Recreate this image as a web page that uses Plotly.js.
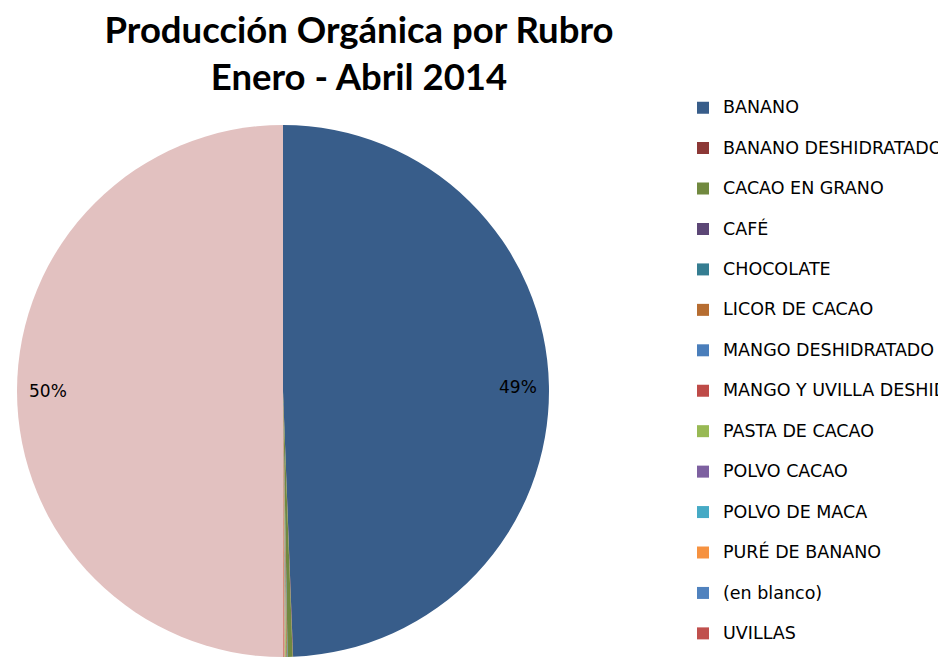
<!DOCTYPE html>
<html>
<head>
<meta charset="utf-8">
<script src="https://cdn.plot.ly/plotly-3.0.1.min.js"></script>
<style>
  html, body { margin: 0; padding: 0; background: #ffffff; }
  #chart { width: 938px; height: 658px; }
</style>
</head>
<body>
<div id="chart"></div>
<script>
// ---- data ----
const categories = [
  'BANANO',
  'BANANO DESHIDRATADO',
  'CACAO EN GRANO',
  'CAFÉ',
  'CHOCOLATE',
  'LICOR DE CACAO',
  'MANGO DESHIDRATADO',
  'MANGO Y UVILLA DESHIDRATADO',
  'PASTA DE CACAO',
  'POLVO CACAO',
  'POLVO DE MACA',
  'PURÉ DE BANANO',
  '(en blanco)',
  'UVILLAS',
  'Total general'
];
// share of organic production (%)
const values = [98.79, 0.05, 0.6, 0.02, 0.05, 0.1, 0.03, 0.01, 0.1, 0.05, 0.02, 0.1, 0.01, 0.07, 100];
const colors = [
  '#385D8A', '#8C3836', '#71893F', '#5C4776', '#357D91', '#B66D31',
  '#4A7EBB', '#BE4B48', '#98B954', '#7D60A0', '#46AAC5', '#F69240',
  '#5082BE', '#C0504D', '#E2C1C0'
];
const titleText = 'Producción Orgánica por Rubro<br>Enero - Abril 2014';

// ---- geometry / style ----
const W = 938, H = 658;
const CX = 283, CY = 391, R = 266;

const legendLabels = categories.map(c => '<span style="font-size:17.5px">' + c + '</span><br>\u00a0');

// percentage labels for large slices, placed along the slice bisector
const total = values.reduce((a, b) => a + b, 0);
const annotations = [];
let cum = 0;
values.forEach((v, i) => {
  const frac = v / total;
  const mid = (cum + frac / 2) * 2 * Math.PI;
  cum += frac;
  if (frac < 0.05) return;
  const px = CX + 0.885 * R * Math.sin(mid);
  const py = CY - 0.885 * R * Math.cos(mid);
  annotations.push({
    xref: 'paper', yref: 'paper',
    x: px / W, y: 1 - py / H,
    xanchor: 'center', yanchor: 'middle',
    showarrow: false,
    text: Math.round(frac * 100) + '%',
    font: { family: 'DejaVu Sans', size: 17, color: '#000000' }
  });
});

const trace = {
  type: 'pie',
  labels: legendLabels,
  values: values,
  sort: false,
  direction: 'clockwise',
  rotation: 0,
  marker: { colors: colors, line: { width: 0 } },
  textinfo: 'none',
  hoverinfo: 'skip',
  domain: { x: [(CX - R) / W, (CX + R) / W], y: [(H - CY - R) / H, (H - CY + R) / H] }
};

const layout = {
  width: W, height: H,
  margin: { l: 0, r: 0, t: 0, b: 0, autoexpand: false },
  paper_bgcolor: '#ffffff',
  plot_bgcolor: '#ffffff',
  title: {
    text: titleText,
    font: { family: 'Lato', size: 36.5, color: '#000000', weight: 'bold' },
    x: 359 / W, xanchor: 'center', xref: 'paper',
    y: 1 - 43 / H, yanchor: 'top', yref: 'container'
  },
  showlegend: true,
  legend: {
    x: 683 / W, xanchor: 'left', xref: 'paper',
    y: 1 - 91.8 / H, yanchor: 'top', yref: 'paper',
    valign: 'top',
    bgcolor: 'rgba(0,0,0,0)',
    borderwidth: 0,
    font: { family: 'DejaVu Sans', size: 14.4, color: '#000000' }
  },
  annotations: annotations
};

Plotly.newPlot('chart', [trace], layout, { displayModeBar: false, staticPlot: true });
</script>
</body>
</html>
